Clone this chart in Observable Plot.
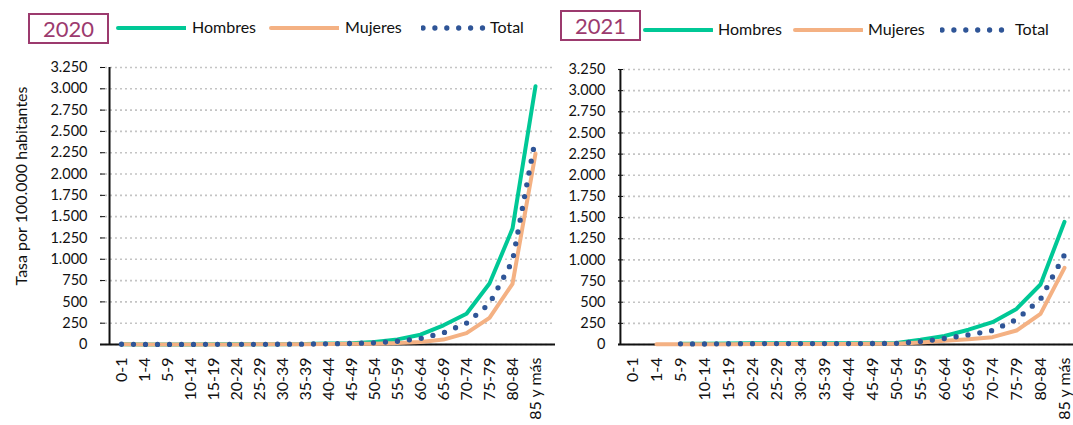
<!DOCTYPE html>
<html>
<head>
<meta charset="utf-8">
<script src="https://cdn.jsdelivr.net/npm/d3@7"></script>
<script src="https://cdn.jsdelivr.net/npm/@observablehq/plot@0.6"></script>
<style>
  html, body { margin: 0; padding: 0; background: #fff; width: 1073px; height: 425px; overflow: hidden; position: relative; font-family: Lato, "Open Sans", sans-serif; }
  .box { position: absolute; border: 2px solid #9c3a6e; color: #9c3a6e; font-size: 22px; text-align: center; box-sizing: border-box; }
  .lg { position: absolute; font-size: 16px; color: #111; white-space: nowrap; line-height: 20px; }
  .ytitle { position: absolute; font-size: 16px; color: #111; white-space: nowrap; transform: translate(-50%, -50%) rotate(-90deg); }
</style>
</head>
<body>
<script>
// ---- data ----
const categories = ["0-1","1-4","5-9","10-14","15-19","20-24","25-29","30-34","35-39","40-44","45-49","50-54","55-59","60-64","65-69","70-74","75-79","80-84","85 y más"];
const hombres2020 = [3,1,1,1,2,2,3,4,5,12,15,30,60,115,225,360,715,1360,3030];
const mujeres2020 = [3,1,1,1,1,1,2,2,3,6,8,10,17,30,58,133,313,712,2240];
const total2020   = [3,1,1,1,2,2,2,3,4,9,12,20,38,70,137,250,480,980,2420];
const hombres2021 = [null,null,10,8,12,14,15,15,15,15,15,18,55,100,175,264,420,709,1450];
const mujeres2021 = [null,3,3,3,4,5,6,6,7,7,8,10,24,43,63,87,165,362,906];
const total2021   = [null,null,8,6,9,10,11,11,11,11,12,14,35,71,114,165,295,535,1060];
const yTicks = d3.range(0, 3251, 250);
const seriesNames = ["Hombres", "Mujeres", "Total"];
const colors = {Hombres: "#00c896", Mujeres: "#f4b183", Total: "#2f5597"};
const yTitle = "Tasa por 100.000 habitantes";

const fmt = d3.formatLocale({decimal: ",", thousands: ".", grouping: [3], currency: ["", ""]}).format(",d");

function makeChart(H, M, T, o) {
  const rows = (arr, s) => categories.map((c, i) => ({cat: c, serie: s, v: arr[i]}));
  const dH = rows(H, "Hombres"), dM = rows(M, "Mujeres"), dT = rows(T, "Total");
  const step = (o.width - o.ml - o.mr) / categories.length;
  return Plot.plot({
    width: o.width, height: o.height,
    marginLeft: o.ml, marginRight: o.mr, marginTop: o.mt, marginBottom: o.mb,
    style: {fontFamily: "Lato, 'Open Sans', sans-serif", fontSize: "14px", color: "#111", background: "transparent", overflow: "visible"},
    x: {type: "point", domain: categories, padding: 0.5, label: null},
    y: {domain: [0, 3250], label: null},
    marks: [
      Plot.gridY(yTicks, {stroke: "#c4c4c4", strokeOpacity: 1, strokeWidth: 1.6, strokeDasharray: "2,3"}),
      Plot.axisY(yTicks, {tickSize: 0, tickPadding: 13, tickFormat: fmt, label: null, fontSize: 14.5}),
      Plot.axisY(yTicks, {tickSize: 5, tickFormat: () => "", dx: 5, stroke: "#111", label: null}),
      Plot.axisX({tickRotate: -90, tickSize: 0, tickPadding: 13, fontSize: 16, label: null}),
      Plot.ruleX([categories[0]], {dx: -step / 2, stroke: "#111", strokeWidth: 2}),
      Plot.ruleY([0], {stroke: "#111", strokeWidth: 2.2}),
      Plot.line(dH, {x: "cat", y: "v", stroke: colors.Hombres, strokeWidth: 4}),
      Plot.line(dM, {x: "cat", y: "v", stroke: colors.Mujeres, strokeWidth: 4}),
      Plot.line(dT, {x: "cat", y: "v", stroke: colors.Total, strokeWidth: 5.3, strokeDasharray: "0,12", strokeLinecap: "round"})
    ]
  });
}

function place(el, left, top) { el.style.position = "absolute"; el.style.left = left + "px"; el.style.top = top + "px"; document.body.appendChild(el); }

function header(year, boxL, boxT, cy, items) {
  const b = document.createElement("div");
  b.className = "box"; b.textContent = year;
  b.style.left = boxL + "px"; b.style.top = boxT + "px"; b.style.width = "81px"; b.style.height = "31px"; b.style.lineHeight = "27px";
  document.body.appendChild(b);
  items.forEach((it, i) => {
    const name = seriesNames[i];
    const ns = "http://www.w3.org/2000/svg";
    const s = document.createElementNS(ns, "svg");
    s.setAttribute("width", 70); s.setAttribute("height", 10);
    s.style.position = "absolute"; s.style.left = (it.x0 - 2) + "px"; s.style.top = (cy - 5) + "px";
    const l = document.createElementNS(ns, "line");
    l.setAttribute("x1", 2); l.setAttribute("x2", it.x1 - it.x0 + 2); l.setAttribute("y1", 5); l.setAttribute("y2", 5);
    l.setAttribute("stroke", colors[name]);
    if (name === "Total") { l.setAttribute("stroke-width", 5.3); l.setAttribute("stroke-dasharray", "0,11.9"); l.setAttribute("stroke-linecap", "round"); }
    else { l.setAttribute("stroke-width", 4); l.setAttribute("stroke-linecap", "round"); }
    s.appendChild(l); document.body.appendChild(s);
    const t = document.createElement("div");
    t.className = "lg"; t.textContent = name;
    t.style.left = it.tx + "px"; t.style.top = (cy - 11) + "px";
    document.body.appendChild(t);
  });
}

header("2020", 28, 13, 28, [{x0: 118, x1: 186, tx: 192}, {x0: 271, x1: 339, tx: 345}, {x0: 423, x1: 483, tx: 490}]);
header("2021", 560, 10, 30, [{x0: 645, x1: 712, tx: 718}, {x0: 795, x1: 862, tx: 868}, {x0: 942, x1: 1002, tx: 1015}]);

const yt = document.createElement("div");
yt.className = "ytitle"; yt.textContent = yTitle;
yt.style.left = "20px"; yt.style.top = "186px";
document.body.appendChild(yt);

const c1 = makeChart(hombres2020, mujeres2020, total2020, {width: 560, height: 375, ml: 100, mr: 5, mt: 17, mb: 81});
place(c1, 0, 50);
const c2 = makeChart(hombres2021, mujeres2021, total2021, {width: 520, height: 375, ml: 58, mr: 3, mt: 19, mb: 81});
place(c2, 560, 50);
</script>
</body>
</html>
